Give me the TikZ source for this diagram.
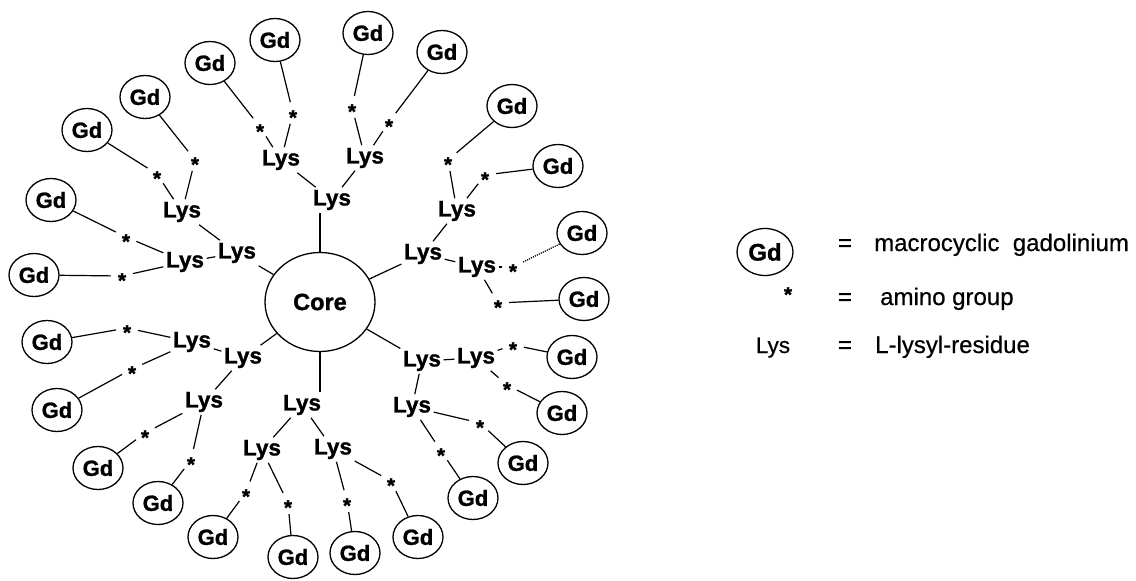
\documentclass[tikz,border=0pt]{standalone}
\usepackage{fontspec}
\setmainfont{Liberation Sans}
\newfontfamily\heavy{Liberation Sans}[FakeBold=1.2]
\newfontfamily\semiheavy{Liberation Sans}[FakeBold=0.5]
\usetikzlibrary{shapes.geometric}
\newcommand\amstar{\raisebox{-0.56em}[0pt][0pt]{*}}
\tikzset{
  gd/.style={draw, ellipse, line width=1.3pt, minimum width=50pt, minimum height=43pt,
    inner sep=0pt, font=\heavy\bfseries\fontsize{22}{24}\selectfont},
  lys/.style={inner sep=2.5pt, font=\heavy\bfseries\fontsize{22.5}{24}\selectfont},
  am/.style={circle, inner sep=0pt, minimum size=22pt, font=\heavy\bfseries\fontsize{21}{22}\selectfont},
  corenode/.style={draw, ellipse, line width=1.3pt, minimum width=110pt, minimum height=99pt,
    inner sep=0pt, font=\heavy\bfseries\fontsize{23.5}{26}\selectfont},
  link/.style={line width=1.2pt},
  legtext/.style={anchor=base west, inner sep=0pt, font=\semiheavy\fontsize{24}{28}\selectfont},
  legeq/.style={anchor=base, inner sep=0pt, font=\semiheavy\fontsize{24}{28}\selectfont}
}
\begin{document}
\begin{tikzpicture}[x=1pt,y=-1pt]
\useasboundingbox (0,0) rectangle (1136,581);

% core
\node[corenode] (core) at (320,302) {Core};

% first generation Lys
\node[lys] (T)  at (332,200) {Lys};
\node[lys] (UL) at (237,253) {Lys};
\node[lys] (UR) at (423,254) {Lys};
\node[lys] (LR) at (422,361) {Lys};
\node[lys] (B)  at (302,405) {Lys};
\node[lys] (LL) at (243,358) {Lys};

% second generation Lys
\node[lys] (TL)  at (281,160) {Lys};
\node[lys] (TR)  at (365,158) {Lys};
\node[lys] (ULa) at (182,212) {Lys};
\node[lys] (ULb) at (185,262) {Lys};
\node[lys] (URa) at (457,211) {Lys};
\node[lys] (URb) at (477,267) {Lys};
\node[lys] (LRa) at (476,358) {Lys};
\node[lys] (LRb) at (412,407) {Lys};
\node[lys] (Ba)  at (262,450) {Lys};
\node[lys] (Bb)  at (333,449) {Lys};
\node[lys] (LLa) at (192,342) {Lys};
\node[lys] (LLb) at (204,402) {Lys};

% amino groups
\node[am] (a1)  at (293,113) {\amstar};
\node[am] (a2)  at (260,127) {\amstar};
\node[am] (a3)  at (352,107) {\amstar};
\node[am] (a4)  at (389,122) {\amstar};
\node[am] (a5)  at (195,160) {\amstar};
\node[am] (a6)  at (157,174) {\amstar};
\node[am] (a7)  at (126,237) {\amstar};
\node[am] (a8)  at (122,276) {\amstar};
\node[am] (a9)  at (448,160) {\amstar};
\node[am] (a10) at (485,175) {\amstar};
\node[am] (a11) at (513,267) {\amstar};
\node[am] (a12) at (498,303) {\amstar};
\node[am] (a13) at (513,345) {\amstar};
\node[am] (a14) at (507,385) {\amstar};
\node[am] (a15) at (480,423) {\amstar};
\node[am] (a16) at (441,451) {\amstar};
\node[am] (a17) at (246,492) {\amstar};
\node[am] (a18) at (288,503) {\amstar};
\node[am] (a19) at (347,501) {\amstar};
\node[am] (a20) at (391,481) {\amstar};
\node[am] (a21) at (127,328) {\amstar};
\node[am] (a22) at (132,369) {\amstar};
\node[am] (a23) at (145,433) {\amstar};
\node[am] (a24) at (191,460) {\amstar};

% gadolinium complexes
\node[gd] (g1)  at (275,40)  {Gd};
\node[gd] (g2)  at (210,63)  {Gd};
\node[gd] (g3)  at (368,33)  {Gd};
\node[gd] (g4)  at (442,52)  {Gd};
\node[gd] (g5)  at (145,97)  {Gd};
\node[gd] (g6)  at (87,130)  {Gd};
\node[gd] (g7)  at (51,200)  {Gd};
\node[gd] (g8)  at (34,275)  {Gd};
\node[gd] (g9)  at (512,106) {Gd};
\node[gd] (g10) at (558,166) {Gd};
\node[gd] (g11) at (582,233) {Gd};
\node[gd] (g12) at (584,299) {Gd};
\node[gd] (g13) at (572,357) {Gd};
\node[gd] (g14) at (562,413) {Gd};
\node[gd] (g15) at (523,463) {Gd};
\node[gd] (g16) at (473,498) {Gd};
\node[gd] (g17) at (213,537) {Gd};
\node[gd] (g18) at (293,557) {Gd};
\node[gd] (g19) at (355,553) {Gd};
\node[gd] (g20) at (418,537) {Gd};
\node[gd] (g21) at (47,342)  {Gd};
\node[gd] (g22) at (57,410)  {Gd};
\node[gd] (g23) at (98,468)  {Gd};
\node[gd] (g24) at (158,503) {Gd};

% core to first generation
\draw[link] (core.north) -- (core.north |- T.south);
\draw[link] (core.south) -- (core.south |- B.north);
\foreach \n in {UL,UR,LR,LL} \draw[link] (core) -- (\n);

% first to second generation
\foreach \p/\c in {T/TL,T/TR,UL/ULa,UL/ULb,UR/URa,UR/URb,LR/LRa,LR/LRb,B/Ba,B/Bb,LL/LLa,LL/LLb}
  \draw[link] (\p) -- (\c);

% second generation to amino groups
\foreach \p/\c in {TL/a1,TL/a2,TR/a3,TR/a4,ULa/a5,ULa/a6,ULb/a7,ULb/a8,URa/a9,URa/a10,URb/a11,URb/a12,
  LRa/a13,LRa/a14,LRb/a15,LRb/a16,Ba/a17,Ba/a18,Bb/a19,Bb/a20,LLa/a21,LLa/a22,LLb/a23,LLb/a24}
  \draw[link] (\p) -- (\c);

% amino groups to Gd
\foreach \i in {1,...,10,12,13,14,15,16,17,18,19,20,21,22,23,24}
  \draw[link] (a\i) -- (g\i);
\draw[link, densely dotted] (a11) -- (g11);

% legend
\node[gd, minimum width=56pt, minimum height=47pt, font=\heavy\bfseries\fontsize{24}{26}\selectfont] (lgd) at (765,252) {Gd};
\node[am] (lam) at (788,290) {\amstar};
\node[anchor=base, inner sep=0pt, font=\semiheavy\fontsize{22.5}{26}\selectfont] (llys) at (773,353) {Lys};
\node[legeq] (e1) at (845,251) {=};
\node[legeq] (e2) at (845,305) {=};
\node[legeq] (e3) at (845,353) {=};
\node[legtext] (t1) at (874,251) {macrocyclic\ \ gadolinium};
\node[legtext] (t2) at (880,305) {amino group};
\node[legtext] (t3) at (875,353) {L-lysyl-residue};
\end{tikzpicture}
\end{document}
